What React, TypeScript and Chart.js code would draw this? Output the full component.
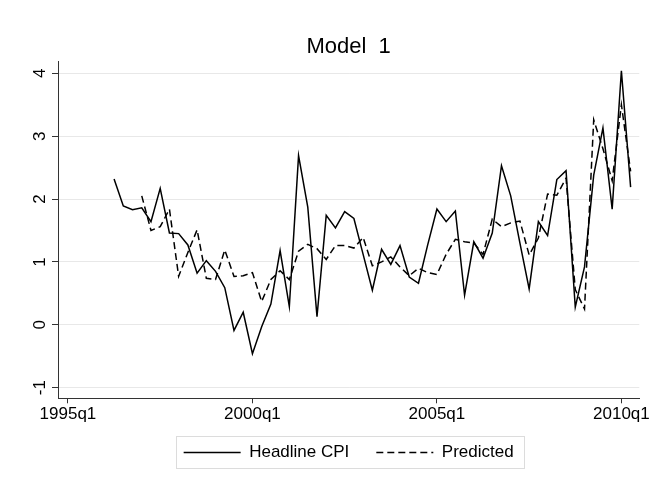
import React, { useEffect, useRef } from 'react';
import { Chart, registerables } from 'chart.js';

Chart.register(...registerables);

const TITLE = 'Model  1';
const FONT = "'Liberation Sans', Arial, Helvetica, sans-serif";

// x positions are quarter indices counted from 1995q1 (= 0)
const X_TICK_QUARTERS = [0, 20, 40, 60];
const X_TICK_LABELS = ['1995q1', '2000q1', '2005q1', '2010q1'];
const Y_TICKS = [-1, 0, 1, 2, 3, 4];

const SERIES_LABELS = ['Headline CPI', 'Predicted'];

// Headline CPI, 1996q2 .. 2010q2
const HEADLINE_START = 5;
const headlineCPI = [
  2.32, 1.89, 1.83, 1.86, 1.64, 2.17, 1.46, 1.45, 1.27, 0.82,
  1.02, 0.85, 0.59, -0.09, 0.20, -0.46, -0.03, 0.33, 1.18, 0.29,
  2.69, 1.87, 0.13, 1.74, 1.54, 1.80, 1.69, 1.12, 0.55, 1.20,
  0.96, 1.26, 0.76, 0.66, 1.27, 1.84, 1.64, 1.81, 0.47, 1.32,
  1.06, 1.46, 2.53, 2.05, 1.30, 0.57, 1.64, 1.42, 2.31, 2.45,
  0.28, 0.92, 2.38, 3.13, 1.84, 4.04, 2.19,
];

// Predicted, 1997q1 .. 2010q2
const PREDICTED_START = 8;
const predicted = [
  2.05, 1.50, 1.56, 1.84, 0.77, 1.15, 1.51, 0.74, 0.72, 1.19,
  0.77, 0.78, 0.83, 0.37, 0.72, 0.86, 0.72, 1.17, 1.28, 1.21,
  1.04, 1.26, 1.26, 1.22, 1.39, 0.94, 1.00, 1.08, 0.92, 0.78,
  0.90, 0.83, 0.80, 1.12, 1.36, 1.32, 1.30, 1.12, 1.68, 1.56,
  1.62, 1.65, 1.11, 1.38, 2.08, 2.06, 2.33, 0.56, 0.25, 3.26,
  2.80, 2.29, 3.50, 2.44,
];

const toPoints = (start: number, vals: number[]) =>
  vals.map((y, i) => ({ x: start + i, y }));

// centre title and legend over the plot region (as Stata does) and place the legend row
const recentre = {
  id: 'recentre',
  afterLayout(chart: any) {
    const ca = chart.chartArea;
    const t = chart.titleBlock;
    if (t) {
      t.left = ca.left;
      t.right = ca.right;
      t.width = ca.right - ca.left;
    }
    const l = chart.legend;
    if (l) {
      const h = l.height;
      l.left = ca.left;
      l.right = ca.right;
      l.width = ca.right - ca.left;
      l.top = ca.bottom + 18.7;
      l.bottom = l.top + h;
    }
  },
};

const legendBorder = {
  id: 'legendBorder',
  afterDraw(chart: any) {
    const lg = chart.legend;
    if (!lg || !lg.legendHitBoxes || !lg.legendHitBoxes.length) return;
    const hb = lg.legendHitBoxes;
    const left = Math.min(...hb.map((h: any) => h.left));
    const right = Math.max(...hb.map((h: any) => h.left + h.width));
    const top = Math.min(...hb.map((h: any) => h.top));
    const bottom = Math.max(...hb.map((h: any) => h.top + h.height));
    const ctx = chart.ctx;
    ctx.save();
    ctx.strokeStyle = '#dcdcdc';
    ctx.lineWidth = 1;
    ctx.setLineDash([]);
    ctx.strokeRect(Math.round(left - 8) + 0.5, Math.round(top - 8) + 0.5, Math.round(right - left + 18), Math.round(bottom - top + 15));
    ctx.restore();
  },
};

export default function App() {
  const ref = useRef<HTMLCanvasElement | null>(null);

  useEffect(() => {
    if (!ref.current) return;
    const chart = new Chart(ref.current, {
      type: 'line',
      data: {
        datasets: [
          {
            label: SERIES_LABELS[0],
            data: toPoints(HEADLINE_START, headlineCPI),
            borderColor: '#000',
            backgroundColor: '#000',
            borderWidth: 1.5,
            pointRadius: 0,
            pointStyle: 'line',
            tension: 0,
            fill: false,
          },
          {
            label: SERIES_LABELS[1],
            data: toPoints(PREDICTED_START, predicted),
            borderColor: '#000',
            backgroundColor: '#000',
            borderWidth: 1.5,
            borderDash: [7, 4],
            pointRadius: 0,
            pointStyle: 'line',
            tension: 0,
            fill: false,
          },
        ],
      },
      options: {
        animation: false,
        responsive: false,
        devicePixelRatio: 1,
        layout: { padding: { left: 26, right: 8, top: 0, bottom: 0 } },
        scales: {
          x: {
            type: 'linear',
            min: -1.08,
            max: 61.94,
            afterBuildTicks: (s: any) => {
              s.ticks = X_TICK_QUARTERS.map((v) => ({ value: v }));
            },
            afterFit: (s: any) => {
              s.height = 29.7;
            },
            ticks: {
              autoSkip: false,
              maxRotation: 0,
              minRotation: 0,
              padding: 1,
              color: '#000',
              font: { family: FONT, size: 17 },
              callback: (v: any) => X_TICK_LABELS[X_TICK_QUARTERS.indexOf(Number(v))] ?? '',
            },
            grid: { drawOnChartArea: false, tickLength: 5, tickColor: '#333', tickWidth: 1 },
            border: { color: '#333', width: 1 },
          },
          y: {
            type: 'linear',
            min: -1.169,
            max: 4.184,
            afterBuildTicks: (s: any) => {
              s.ticks = Y_TICKS.map((v) => ({ value: v }));
            },
            afterFit: (s: any) => {
              s.width = 32;
            },
            ticks: {
              minRotation: 90,
              maxRotation: 90,
              crossAlign: 'center',
              padding: 4,
              color: '#000',
              font: { family: FONT, size: 17 },
              callback: (v: any) => String(v),
            },
            grid: { color: '#e8e8e8', tickColor: '#333', tickLength: 6, lineWidth: 1 },
            border: { color: '#333', width: 1 },
          },
        },
        plugins: {
          title: {
            display: true,
            text: TITLE,
            color: '#000',
            font: { family: FONT, size: 22, weight: 'normal' },
            padding: { top: 34, bottom: 1.3 },
          },
          legend: {
            display: true,
            position: 'bottom',
            labels: {
              usePointStyle: true,
              pointStyleWidth: 57,
              boxHeight: 17,
              padding: 27,
              color: '#000',
              font: { family: FONT, size: 17 },
              generateLabels: (chart: any) =>
                chart.data.datasets.map((ds: any, i: number) => ({
                  text: ds.label,
                  fillStyle: ds.borderColor,
                  strokeStyle: ds.borderColor,
                  lineWidth: ds.borderWidth,
                  lineDash: ds.borderDash || [],
                  pointStyle: 'line',
                  hidden: false,
                  fontColor: '#000',
                  datasetIndex: i,
                })),
            },
          },
          tooltip: { enabled: false },
        },
      } as any,
      plugins: [recentre, legendBorder],
    });
    return () => chart.destroy();
  }, []);

  return (
    <div style={{ position: 'absolute', left: 0, top: 0, width: 651, height: 482, background: '#fff' }}>
      <canvas ref={ref} width={651} height={482} style={{ display: 'block' }} />
    </div>
  );
}
